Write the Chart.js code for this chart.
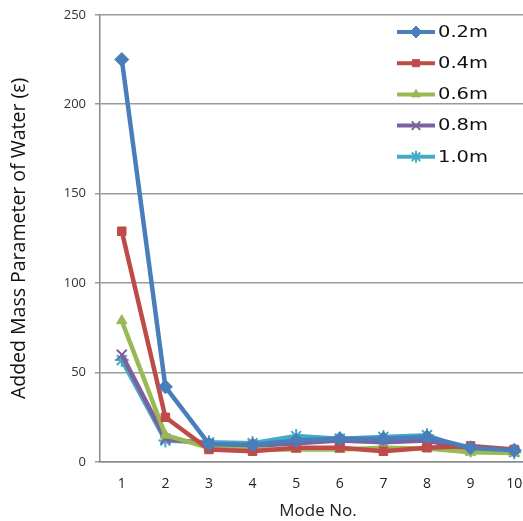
<!DOCTYPE html>
<html>
<head>
<meta charset="utf-8">
<script src="https://cdn.jsdelivr.net/npm/chart.js@4/dist/chart.umd.min.js"></script>
<style>
  html, body { margin: 0; padding: 0; background: #fff; overflow: hidden; }
  #wrap { width: 545px; height: 523px; margin-top: -2px; }
</style>
</head>
<body>
<div id="wrap"><canvas id="chart"></canvas></div>
<script>
// Data
const modes = ["1", "2", "3", "4", "5", "6", "7", "8", "9", "10"];
const depth02 = [225, 42, 10, 9.5, 12, 13, 13, 14, 8, 6.5];
const depth04 = [129, 25, 7, 6, 8, 8, 6, 8, 9, 7];
const depth06 = [79, 15, 8, 7, 7, 7, 8, 7.5, 5.5, 5];
const depth08 = [60, 13, 10, 9, 10.5, 12, 11, 12, 7, 6];
const depth10 = [57, 12, 11, 10.5, 14.5, 13, 14, 15, 6.5, 5.5];
const seriesNames = ["0.2m", "0.4m", "0.6m", "0.8m", "1.0m"];
const yTicks = [0, 50, 100, 150, 200, 250];

const colors = ["#4A7EBB", "#BE4B48", "#98B954", "#7D60A0", "#46AAC5"];
const markers = ["rectRot", "rect", "triangle", "crossRot", "star"];
const radii = [7, 6, 6, 7, 7];
const allData = [depth02, depth04, depth06, depth08, depth10];

const datasets = allData.map((d, i) => ({
  label: seriesNames[i],
  data: d,
  borderColor: colors[i],
  backgroundColor: colors[i],
  borderWidth: 4.5,
  pointStyle: markers[i],
  pointRadius: radii[i],
  pointBorderWidth: (i >= 3) ? 2 : 1,
  tension: 0
}));

// Legend drawn inside the plot area, top right
const innerLegend = {
  id: 'innerLegend',
  afterDraw(chart) {
    const ctx = chart.ctx;
    const x0 = 397, x1 = 435, tx = 438;
    ctx.save();
    ctx.textBaseline = 'middle';
    chart.data.datasets.forEach((ds, i) => {
      const y = 34 + i * 31.2; // canvas sits 2px above the page
      ctx.strokeStyle = ds.borderColor;
      ctx.lineWidth = 4;
      ctx.beginPath();
      ctx.moveTo(x0, y);
      ctx.lineTo(x1, y);
      ctx.stroke();
      ctx.fillStyle = ds.backgroundColor;
      ctx.strokeStyle = ds.borderColor;
      ctx.lineWidth = ds.pointBorderWidth;
      Chart.helpers.drawPoint(ctx, { pointStyle: ds.pointStyle, radius: ds.pointRadius - 1, borderWidth: ds.pointBorderWidth, rotation: 0 }, (x0 + x1) / 2, y);
      // text in the picture is a bit stretched sideways
      ctx.save();
      ctx.translate(tx, y + 1);
      ctx.scale(1.3, 1);
      ctx.font = '15px "DejaVu Sans"';
      ctx.fillStyle = '#111';
      ctx.fillText(ds.label, 0, 0);
      ctx.restore();
    });
    ctx.restore();
  }
};

new Chart(document.getElementById('chart'), {
  type: 'line',
  data: { labels: modes, datasets: datasets },
  options: {
    responsive: true,
    maintainAspectRatio: false,
    animation: false,
    layout: { padding: { top: 12, right: 0, bottom: 0, left: 0 } },
    plugins: { legend: { display: false }, tooltip: { enabled: false } },
    scales: {
      x: {
        type: 'category',
        offset: true,
        grid: { display: false, drawTicks: false },
        border: { display: true, color: '#8a8a8a', width: 1.5 },
        ticks: { color: '#222', padding: 14, font: { family: 'Open Sans', size: 14 } },
        title: { display: true, text: 'Mode No.', color: '#222', font: { family: 'Open Sans', size: 17 }, padding: { top: 2, bottom: 0 } },
        afterFit(scale) { scale.height = 59; }
      },
      y: {
        min: 0,
        max: 250,
        afterBuildTicks(scale) { scale.ticks = yTicks.map(v => ({ value: v })); },
        grid: { color: '#9a9a9a', lineWidth: 1.5, tickLength: 5 },
        border: { display: true, color: '#8a8a8a', width: 1.5 },
        ticks: { color: '#333', padding: 9, font: { family: 'Open Sans', size: 13 } },
        title: { display: true, text: 'Added Mass Parameter of Water (\u03b5)', color: '#111', font: { family: 'Open Sans', size: 19.5 }, padding: { top: 8, bottom: 0 } },
        afterFit(scale) { scale.width = 100; }
      }
    }
  },
  plugins: [innerLegend]
});
</script>
</body>
</html>
